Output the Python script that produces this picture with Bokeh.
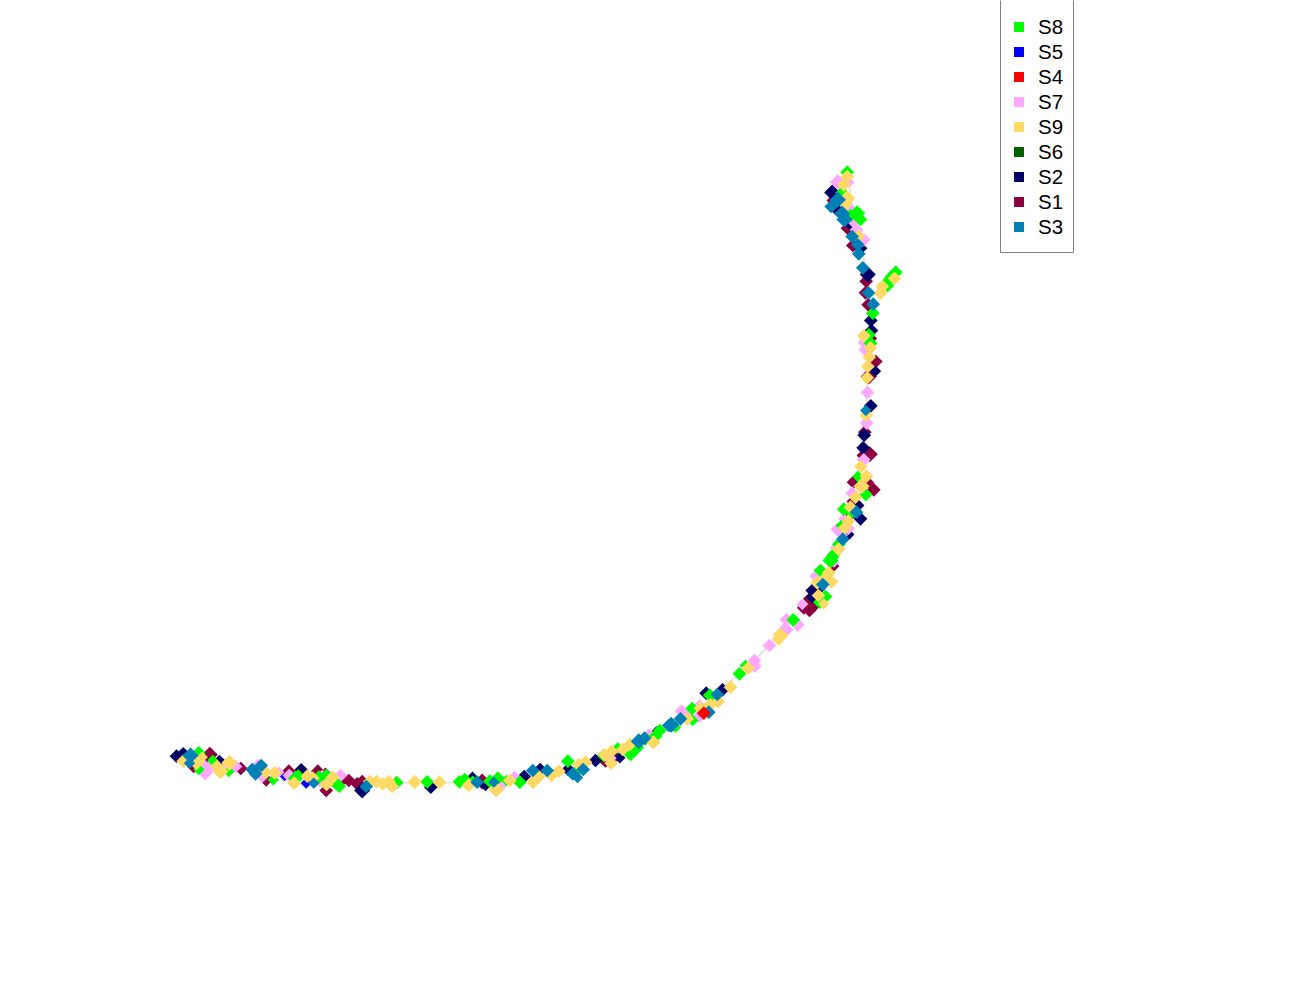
import numpy as np
from bokeh.plotting import figure
from bokeh.models import Legend, LegendItem, Range1d, BoxAnnotation
from bokeh.embed import file_html
from bokeh.resources import INLINE

# x, y, and a depth class (0 far .. 2 near)
S1_x = [831.7,847,852.3,865.7,865,867.7,871,875.3,870.7,868.3,864.3,869.3,861.7,853,868.3,873.3,851.7,848.3,833.3,815,809.3,814.3,803.3,809,481.7,605,615,193.3,209.3,205,240.3,265.7,288.3,317.3,325,325.7,341.7,348.3,356.7,361.7]
S1_y = [200,227.7,245,280.7,292.3,304.3,338,361,372.3,376,431.7,453.7,455,481.7,482.3,489.3,501,516.7,565.7,589.3,598.3,604.3,607.3,610,781,761.7,756,766,754.3,759.3,768,779.3,770.7,770.7,772.7,790,779.3,780,783.3,780]
S1_d = [0,1,1,1,1,1,0,1,1,2,1,2,0,1,0,1,0,0,0,0,1,1,1,1,2,0,0,1,2,0,1,1,1,1,0,1,1,1,1,0]

S2_x = [831.7,836.7,850.7,860,867.3,870.3,871,875,870.3,863.7,862.7,858.3,860,848.3,820.7,818.3,811.7,812.3,430.3,485,523.7,539.7,567.7,595,619.3,656,656,722,705.7,176,182.7,219,300.7,323.3,361.7,472]
S2_y = [192,209.3,225,247.7,274,320,330,370.7,405.3,434.7,447.3,505,518.3,534,571.7,588.3,590,596.7,786.7,785,776,769,769,760,757.3,732.7,731.7,689.3,692.7,755.7,753.3,761,769.3,780,790,776.7]
S2_d = [2,1,0,1,2,1,1,0,1,1,1,0,1,0,1,1,1,1,1,0,1,1,1,1,0,1,0,1,1,1,1,1,1,1,2,0]

S3_x = [837.3,830.7,841.7,844,851.7,857.3,858.3,862.3,868,872.7,865.3,856,842.3,822.3,716.7,708.3,680,670.7,644,638.3,476.7,532.3,546.7,572.3,582.7,668.3,190,189,251.7,260.7,255,313.3,365.7,493.3,577]
S3_y = [199.3,206,213.3,219,236,244.3,253.3,267.3,292.3,303.7,410,511.7,538.7,584,694,711.7,718.3,724.3,737.7,740.7,781.7,770,770,773.3,769,725,755,762.7,769,765,773.3,782.7,786,781.7,777]
S3_d = [2,1,2,2,1,1,1,1,1,1,0,1,1,1,1,1,1,2,1,2,1,1,1,1,1,1,2,0,1,1,1,0,1,0,0]

S4_x = [703.3]
S4_y = [712.7]
S4_d = [1]

S5_x = [284,305.7]
S5_y = [775,782.7]
S5_d = [0,0]

S6_x = []
S6_y = []
S6_d = []

S7_x = [837.3,848.3,849.3,852.7,856,863.3,865,864,865,867,866.3,863.3,851.7,843.3,836.7,847.7,841.7,835,833.3,815.7,801.7,786,797.3,785,769,754,754.3,699,681,688.3,698.3,648.3,502.7,514.3,609.3,649.3,203.3,204.7,209.3,225,235,257.7,261.7,278.3,288.7,319,340,321.7]
S7_y = [181.7,181.7,208.3,220.7,229.3,239.3,342.7,341.7,349.3,392,422.7,459.3,492.7,518.3,529,528,535,547.3,561.7,575.7,604,619.3,624.3,629.3,645,660,665.7,704.3,710.7,712.7,716,734,782.3,776,757.7,734,765,771.7,766,766.7,766,765,775.7,771.7,775,781,775,775]
S7_d = [2,0,1,1,1,1,1,1,1,1,1,1,1,0,1,1,0,0,0,1,0,1,1,2,1,1,1,0,1,0,1,0,1,0,1,0,1,2,1,1,1,1,1,0,1,0,1,0]

S8_x = [846.7,841.7,850,856.7,860,895.3,891,888.3,887,872.3,868.3,870,857.3,865.3,843.3,850.7,840.7,838.3,833.3,830,831.7,820,825,819.3,792.7,745,739,709.3,714,691.7,692.3,675,659.3,645,636,426.7,459,464.3,472.3,489.3,497.3,519.3,538.3,567.3,575,603.3,617.3,630,636.7,655,198.3,212.3,198.3,228.3,272.7,297.7,294.3,318.3,325.7,334,338.7,396.3,466.7,506]
S8_y = [171.7,192.3,215,212.7,219,271.7,276,280,285,312.7,334.3,342.7,476,494,508.7,511.7,525,543.7,554,560,556.7,570,596,601.7,619.3,665,673.3,694.7,698.3,708,720,726.7,730,738.3,746.7,781.3,781.3,779,780.7,780.7,777.7,781.7,776.7,760.7,771.7,755,747.3,754,747.3,735.7,752.3,760,769,771,779.3,775.7,777.7,776.7,775,781.7,785.7,782,784,780]
S8_d = [1,1,1,2,1,1,1,1,1,1,1,1,0,1,1,1,0,1,1,2,1,1,1,1,1,0,1,1,0,1,0,0,1,1,1,1,1,1,0,1,1,1,0,1,1,1,0,1,1,1,1,0,0,0,0,1,1,1,1,1,1,1,0,0]

S9_x = [846.7,843.3,846.7,845,858,894,881.7,880,863.3,870,868.7,867.3,866.7,865.7,860.3,866,861,855,850,847.7,844.3,838,828.3,825,831,816.7,818,823.3,781,779.3,778.3,747.7,730,717.7,710,700,686.7,652.7,414.3,439,468.3,495.7,509.3,532.7,538.3,551,558.3,578.3,585,604.3,611,610.7,622.3,629.3,653,182.7,196,201.7,216.7,220,229,265,274.3,293.7,306.7,312.3,332.3,326,369.3,376,382.3,388.3,391.7,414.3]
S9_y = [176,184.3,197.7,204,235.7,278,286,292.7,335.3,347.3,356.7,366,377.3,414.7,466,475.7,485.7,496.7,506.7,520.7,527.3,548.7,572.3,577.3,581.3,582.3,595,603.3,635,634,638.3,667.7,686.7,701,704.3,707.7,718.3,742,781.3,781.7,784.7,789,780,781.7,776,775,770.7,764.3,761.7,754.3,751,762.7,749,744,741.7,760.7,761.7,756.7,766,770.7,762.3,771.7,772.3,782.7,775.7,777.7,776.7,784,781,781,783.3,781,786,781.7]
S9_d = [1,1,2,1,1,1,1,1,1,1,1,1,1,1,1,1,2,1,1,1,1,1,1,1,1,1,1,0,1,1,1,1,1,1,1,1,1,1,1,1,1,2,1,1,1,1,1,1,1,1,1,1,1,1,1,1,2,0,1,2,2,1,1,1,1,1,1,1,1,1,1,1,1,1]

# The light trunk the points lie along, and its short side branch
curve_x = [176,230,300,360,420,480,540,600,650,700,745,790,825,845,858,866,869,866,858,852,846]
curve_y = [756,766,775,783,782,782,776,758,735,707,668,624,578,525,470,400,330,270,235,205,172]
branch_x = [866,880,895]
branch_y = [300,290,272]

series = {
    "S8": (S8_x, S8_y, S8_d, "#00FF00"),
    "S5": (S5_x, S5_y, S5_d, "#0000FF"),
    "S4": (S4_x, S4_y, S4_d, "#FF0000"),
    "S7": (S7_x, S7_y, S7_d, "#FFA8FF"),
    "S9": (S9_x, S9_y, S9_d, "#FFD966"),
    "S6": (S6_x, S6_y, S6_d, "#005F00"),
    "S2": (S2_x, S2_y, S2_d, "#000066"),
    "S1": (S1_x, S1_y, S1_d, "#8C0040"),
    "S3": (S3_x, S3_y, S3_d, "#0080B4"),
}
legend_order = ["S8", "S5", "S4", "S7", "S9", "S6", "S2", "S1", "S3"]
draw_order = ["S6", "S5", "S1", "S2", "S7", "S8", "S9", "S3", "S4"]

p = figure(width=1300, height=1000, output_backend="svg", toolbar_location=None,
           x_range=Range1d(0, 1300), y_range=Range1d(1000, 0),
           min_border=0, outline_line_color=None)
p.axis.visible = False
p.grid.visible = False
p.background_fill_color = "white"

p.line(curve_x, curve_y, line_color="#E4E4E4", line_width=2)
p.line(branch_x, branch_y, line_color="#E4E4E4", line_width=2)

for name in draw_order:
    xs, ys, ds, col = series[name]
    if not xs:
        continue
    sizes = [8.0 + 1.7 * d for d in ds]
    p.scatter(xs, ys, size=sizes, marker="square",
              angle=np.pi / 4, fill_color=col, line_color=None)

# Frame of the key, extending just past the top of the page
p.add_layout(BoxAnnotation(left=1000, right=1073, top=-2, bottom=252,
                           fill_alpha=0, line_color="#808080", line_alpha=1, line_width=1))

items = []
for name in legend_order:
    r = p.scatter([float("nan")], [float("nan")], marker="square",
                  fill_color=series[name][3], line_color=None)
    items.append(LegendItem(label=name, renderers=[r]))

legend = Legend(items=items, location=(1000, 756), orientation="vertical",
                padding=5, margin=0, spacing=0, label_height=25, glyph_height=25, glyph_width=27,
                label_standoff=6, label_text_font="Liberation Sans", label_text_font_size="20.5px",
                label_text_color="#000000", background_fill_alpha=0, border_line_alpha=0)
p.add_layout(legend, "center")

open("out.html", "w").write(file_html(p, INLINE))
